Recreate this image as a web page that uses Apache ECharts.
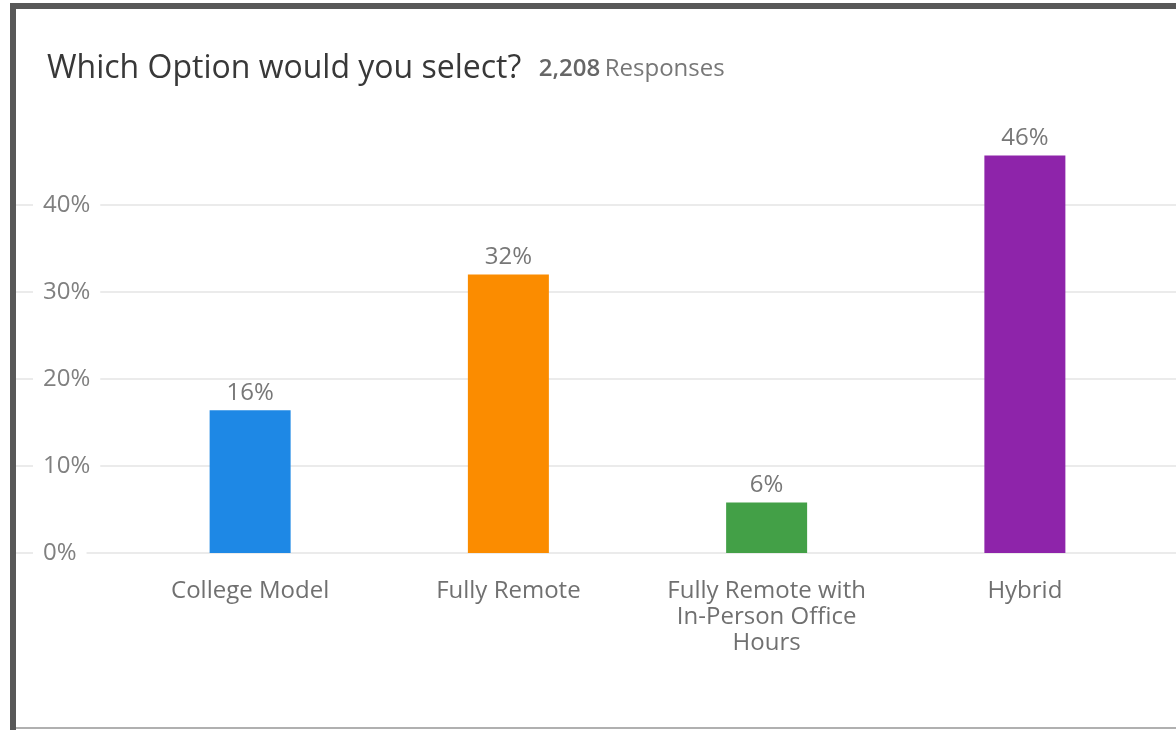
<!DOCTYPE html>
<html>
<head>
<meta charset="utf-8">
<script src="https://cdn.jsdelivr.net/npm/echarts@6/dist/echarts.min.js"></script>
<style>
html,body{margin:0;padding:0;background:#fff;}
#c{width:1176px;height:730px;}
</style>
</head>
<body>
<div id="c"></div>
<script>
const categories = ['College Model', 'Fully Remote', 'Fully Remote with\nIn-Person Office\nHours', 'Hybrid'];
const values = [16.4, 32.0, 5.8, 45.7];
const colors = ['#1e88e5', '#fb8c00', '#43a047', '#8e24aa'];
const yTicks = [0, 10, 20, 30, 40, 50];
const titleText = 'Which Option would you select?';
const responseCount = '2,208';
const responseWord = 'Responses';

const chart = echarts.init(document.getElementById('c'));
const FONT = '"Open Sans", "Noto Sans", sans-serif';

chart.setOption({
  backgroundColor: '#fff',
  animation: false,
  textStyle: { fontFamily: FONT },
  title: {
    left: 42, top: 46,
    text: '{a|' + titleText + '}  {b|' + responseCount + '} {c|' + responseWord + '}',
    textStyle: {
      fontWeight: 'normal',
      rich: {
        a: { fontSize: 32, lineHeight: 36, color: '#383838', fontWeight: 'normal', fontFamily: FONT },
        b: { fontSize: 24, lineHeight: 36, color: '#666', fontWeight: 600, fontFamily: FONT, padding: [0, 0, 0, 8] },
        c: { fontSize: 24, lineHeight: 36, color: '#777', fontWeight: 'normal', fontFamily: FONT }
      }
    }
  },
  graphic: [
    { type: 'rect', shape: { x: 10, y: 3, width: 1166, height: 6 }, style: { fill: '#585858' } },
    { type: 'rect', shape: { x: 10, y: 3, width: 6, height: 727 }, style: { fill: '#585858' } },
    { type: 'rect', shape: { x: 16, y: 727, width: 1160, height: 2 }, style: { fill: '#b0b0b0' } }
  ],
  grid: [
    { left: 16, right: 0, top: 118, bottom: 177 },
    { left: 121, right: 22, top: 118, bottom: 177 }
  ],
  xAxis: [
    { gridIndex: 0, type: 'category', data: categories, show: false },
    {
      gridIndex: 1, type: 'category', data: categories,
      axisLine: { show: false }, axisTick: { show: false },
      axisLabel: { color: '#707070', fontSize: 24, lineHeight: 26, margin: 25, fontFamily: FONT, interval: 0 }
    }
  ],
  yAxis: [
    {
      gridIndex: 0, type: 'value', min: yTicks[0], max: yTicks[yTicks.length - 1], interval: 10,
      axisLine: { show: false }, axisTick: { show: false },
      splitLine: { lineStyle: { color: ['#e4e4e4', '#e4e4e4', '#e4e4e4', '#e4e4e4', '#e4e4e4', 'rgba(0,0,0,0)'], width: 1.5 } },
      axisLabel: {
        inside: true, margin: 17, showMaxLabel: false,
        color: '#808080', fontSize: 24, fontFamily: FONT,
        backgroundColor: '#fff', padding: [2, 10, 2, 10],
        formatter: v => v + '%'
      }
    },
    {
      gridIndex: 1, type: 'value', min: yTicks[0], max: yTicks[yTicks.length - 1], interval: 10,
      show: false, splitLine: { show: false }
    }
  ],
  series: [{
    type: 'bar', xAxisIndex: 1, yAxisIndex: 1,
    barWidth: 81,
    data: values.map((v, i) => ({ value: v, itemStyle: { color: colors[i] } })),
    label: {
      show: true, position: 'top', distance: 5,
      color: '#777', fontSize: 24, fontFamily: FONT,
      formatter: p => Math.round(p.value) + '%'
    }
  }]
});
</script>
</body>
</html>
